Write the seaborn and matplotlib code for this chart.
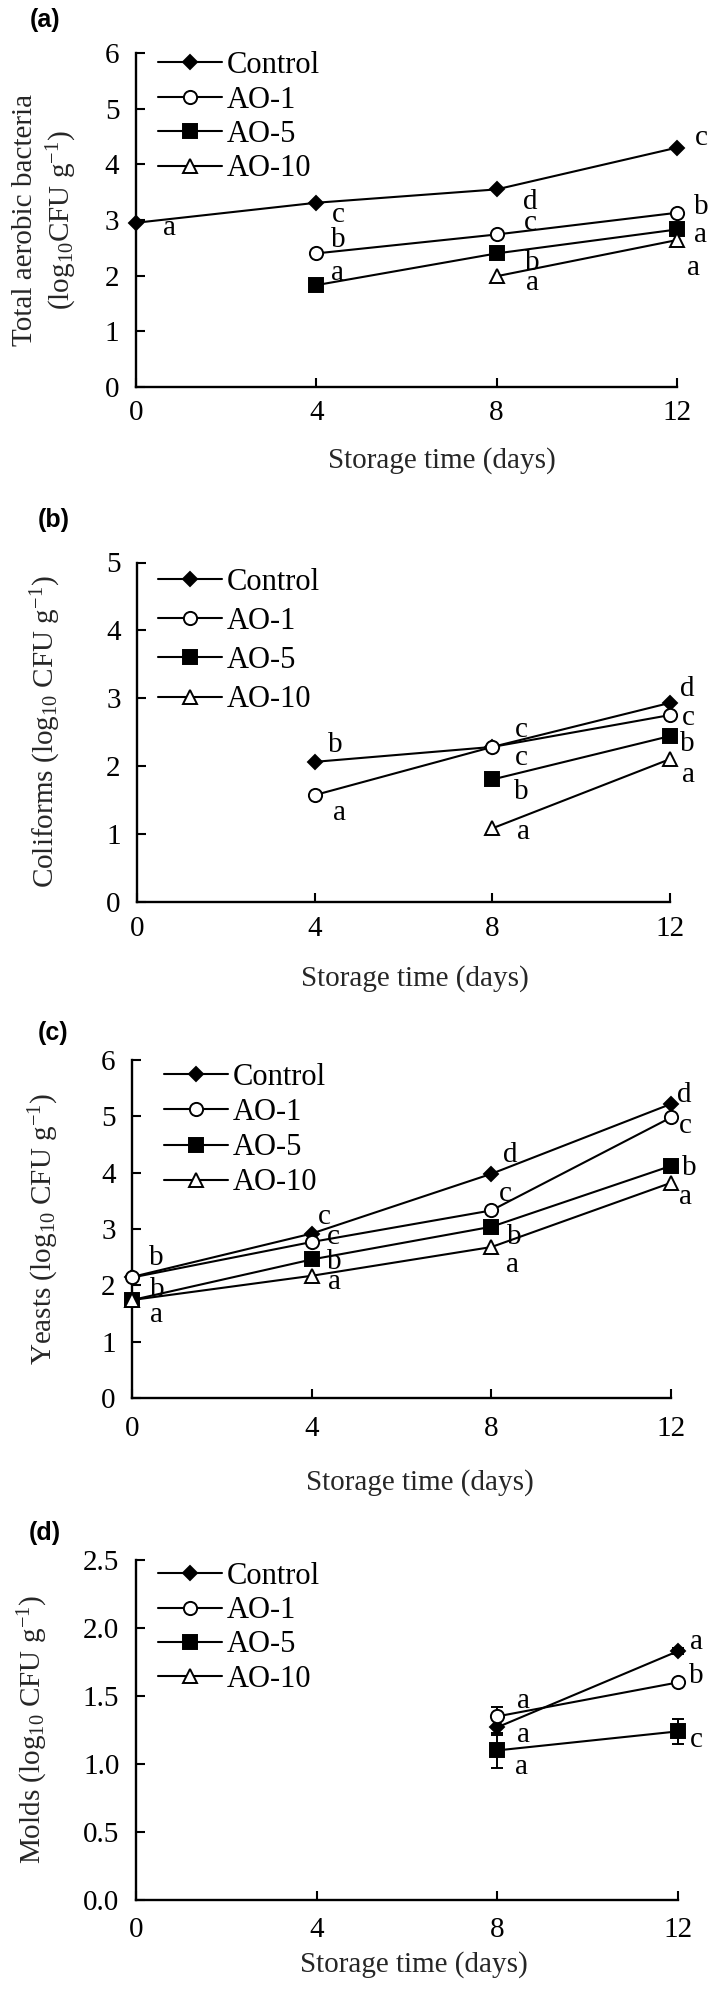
import numpy as np
import pandas as pd
import matplotlib
matplotlib.use("Agg")
import matplotlib.pyplot as plt
from matplotlib.lines import Line2D
import seaborn as sns

# ---------------- data ----------------
days = [0, 4, 8, 12]
series = ["Control", "AO-1", "AO-5", "AO-10"]
nan = np.nan

tab_control = [2.95, 3.31, 3.55, 4.30]
tab_ao1 = [nan, 2.40, 2.74, 3.13]
tab_ao5 = [nan, 1.83, 2.40, 2.83]
tab_ao10 = [nan, nan, 1.99, 2.64]

col_control = [nan, 2.06, 2.28, 2.93]
col_ao1 = [nan, 1.57, 2.28, 2.75]
col_ao5 = [nan, nan, 1.80, 2.44]
col_ao10 = [nan, nan, 1.08, 2.10]

yst_control = [2.15, 2.92, 3.98, 5.22]
yst_ao1 = [2.14, 2.77, 3.33, 4.98]
yst_ao5 = [1.74, 2.46, 3.04, 4.12]
yst_ao10 = [1.74, 2.17, 2.68, 3.82]

mld_control = [nan, nan, 1.27, 1.83]
mld_ao1 = [nan, nan, 1.35, 1.60]
mld_ao5 = [nan, nan, 1.10, 1.24]
mld_ao10 = [nan, nan, nan, nan]
mld_control_err = [nan, nan, 0.06, 0.02]
mld_ao1_err = [nan, nan, 0.07, 0.02]
mld_ao5_err = [nan, nan, 0.13, 0.09]

# significance letters (text, x, y in data units)
letters_a = [("a", 0.75, 2.85), ("c", 4.48, 3.09), ("d", 8.75, 3.33), ("c", 12.53, 4.47),
             ("b", 4.48, 2.64), ("c", 8.75, 2.94), ("b", 12.53, 3.24),
             ("a", 4.48, 2.04), ("b", 8.8, 2.22), ("a", 12.53, 2.73),
             ("a", 8.8, 1.86), ("a", 12.37, 2.13)]
letters_b = [("b", 4.46, 2.31), ("a", 4.56, 1.30), ("c", 8.65, 2.53), ("c", 8.65, 2.11),
             ("b", 8.65, 1.62), ("a", 8.70, 1.03), ("d", 12.38, 3.14), ("c", 12.42, 2.70),
             ("b", 12.38, 2.33), ("a", 12.42, 1.87)]
letters_c = [("b", 0.54, 2.48), ("b", 0.56, 1.92), ("a", 0.54, 1.47),
             ("c", 4.27, 3.22), ("c", 4.47, 2.86), ("b", 4.5, 2.42), ("a", 4.5, 2.06),
             ("d", 8.41, 4.31), ("c", 8.31, 3.63), ("b", 8.51, 2.86), ("a", 8.46, 2.36),
             ("d", 12.30, 5.38), ("c", 12.33, 4.82), ("b", 12.40, 4.08), ("a", 12.33, 3.57)]
letters_d = [("a", 8.59, 1.46), ("a", 8.59, 1.21), ("a", 8.53, 0.98),
             ("a", 12.40, 1.90), ("b", 12.40, 1.65), ("c", 12.40, 1.18)]

panel_tags = ["(a)", "(b)", "(c)", "(d)"]
ylabels = ["Total aerobic bacteria\n(log$_{10}$CFU g$^{-1}$)",
           "Coliforms (log$_{10}$ CFU g$^{-1}$)",
           "Yeasts (log$_{10}$ CFU g$^{-1}$)",
           "Molds (log$_{10}$ CFU g$^{-1}$)"]
xlabel = "Storage time (days)"
xticks = [0, 4, 8, 12]
yticks_list = [[0, 1, 2, 3, 4, 5, 6], [0, 1, 2, 3, 4, 5], [0, 1, 2, 3, 4, 5, 6],
               [0.0, 0.5, 1.0, 1.5, 2.0, 2.5]]

# ---------------- style ----------------
sns.set_style("ticks")
plt.rcParams.update({
    "font.family": ["Liberation Serif", "DejaVu Serif"],
    "mathtext.fontset": "custom",
    "mathtext.rm": "Liberation Serif",
    "mathtext.it": "Liberation Serif:italic",
    "mathtext.bf": "Liberation Serif:bold",
    "axes.linewidth": 1.7,
    "axes.edgecolor": "black",
    "xtick.direction": "in",
    "ytick.direction": "in",
    "xtick.major.size": 6.5,
    "ytick.major.size": 6.5,
    "xtick.major.width": 1.5,
    "ytick.major.width": 1.5,
    "ytick.major.pad": 12,
    "xtick.color": "black",
    "ytick.color": "black",
    "text.color": "black",
})
FS = 21
LFS = 22

W, H = 709, 1996
fig = plt.figure(figsize=(W / 100, H / 100), dpi=100)

# axes rectangles in pixels: left, top(y of max), right, bottom(y of 0)
rects = [(136, 53, 677, 387), (137.4, 562.5, 670, 901.5),
         (132.4, 1060, 671, 1398), (136, 1560, 678, 1900)]
ylab_x = [-0.105, -0.140, -0.133, -0.159]
xlab_pos = [(0.566, -0.219), (0.521, -0.226), (0.534, -0.249), (0.513, -0.191)]
xpads = [9, 10.5, 13, 12]
tag_pos = [(45, 20), (54, 520), (53, 1033), (45, 1533)]
leg_pos = [(158, 51), (158, 568), (164, 1063), (158, 1562)]
leg_spacing = [0.18, 0.33, 0.2, 0.17]

mstyle = {
    "Control": dict(marker="D", markersize=7.0, markerfacecolor="black"),
    "AO-1": dict(marker="o", markersize=9.5, markerfacecolor="white"),
    "AO-5": dict(marker="s", markersize=10.5, markerfacecolor="black"),
    "AO-10": dict(marker="^", markersize=9.5, markerfacecolor="white"),
}

panels = [
    [tab_control, tab_ao1, tab_ao5, tab_ao10],
    [col_control, col_ao1, col_ao5, col_ao10],
    [yst_control, yst_ao1, yst_ao5, yst_ao10],
    [mld_control, mld_ao1, mld_ao5, mld_ao10],
]
letters_all = [letters_a, letters_b, letters_c, letters_d]
errs_d = [mld_control_err, mld_ao1_err, mld_ao5_err, None]

for i, vals in enumerate(panels):
    l, t, r, b = rects[i]
    ax = fig.add_axes([l / W, (H - b) / H, (r - l) / W, (b - t) / H])
    yt = yticks_list[i]
    for name, v in zip(series, vals):
        df = pd.DataFrame({"day": days, "val": v}).dropna()
        if len(df) == 0:
            continue
        sns.lineplot(data=df, x="day", y="val", ax=ax, color="black", linewidth=1.5,
                     markeredgecolor="black", markeredgewidth=1.4, clip_on=False,
                     zorder=3, legend=False, **mstyle[name])
    if i == 3:
        for name, v, e in zip(series, vals, errs_d):
            if e is None:
                continue
            df = pd.DataFrame({"day": days, "val": v, "err": e}).dropna()
            ax.errorbar(df["day"], df["val"], yerr=df["err"], fmt="none",
                        ecolor="black", elinewidth=1.4, capsize=4, capthick=1.4,
                        zorder=2, clip_on=False)
    for txt, x, y in letters_all[i]:
        ax.text(x, y, txt, fontsize=FS, ha="center", va="center", clip_on=False)

    ax.set_xlim(0, 12)
    ax.set_ylim(yt[0], yt[-1])
    ax.set_xticks(xticks)
    ax.set_yticks(yt)
    if i == 3:
        ax.set_yticklabels([f"{v:.1f}" for v in yt])
    ax.tick_params(labelsize=FS)
    ax.tick_params(axis="x", pad=xpads[i])
    sns.despine(ax=ax)
    ax.set_xlabel(xlabel, fontsize=FS)
    ax.xaxis.set_label_coords(*xlab_pos[i])
    ax.xaxis.label.set_va("center")
    ax.set_ylabel(ylabels[i], fontsize=FS, linespacing=1.3)
    ax.yaxis.set_label_coords(ylab_x[i], 0.5)

    handles = [Line2D([], [], color="black", linewidth=1.5, markeredgecolor="black",
                      markeredgewidth=1.4, **mstyle[n]) for n in series]
    lx, ly = leg_pos[i]
    ax.legend(handles, series, loc="upper left",
              bbox_to_anchor=((lx - l) / (r - l), (b - ly) / (b - t)),
              frameon=False, fontsize=LFS, borderpad=0, borderaxespad=0,
              handlelength=2.1, handletextpad=0.15, labelspacing=leg_spacing[i])

    fig.text(tag_pos[i][0] / W, 1 - tag_pos[i][1] / H, panel_tags[i],
             family="Liberation Sans", weight="bold", fontsize=18,
             ha="center", va="center")

fig.savefig("out.png", dpi=100)
